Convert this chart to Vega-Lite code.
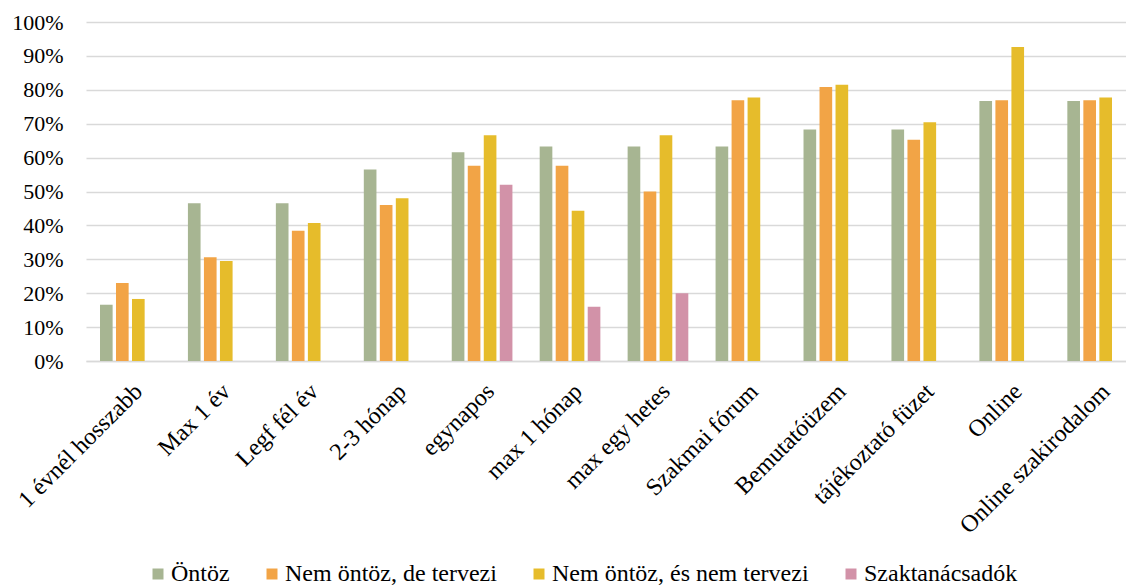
{
  "$schema": "https://vega.github.io/schema/vega-lite/v6.json",
  "width": 1040,
  "height": 339,
  "autosize": {"type": "none"},
  "padding": {"left": 86, "top": 22, "right": 0, "bottom": 225},
  "background": "white",
  "config": {
    "font": "Liberation Serif",
    "view": {"stroke": null},
    "axis": {"labelFont": "Liberation Serif"},
    "legend": {"labelFont": "Liberation Serif"}
  },
  "data": {
    "values": [
      {"cat": "1 évnél hosszabb", "series": "Öntöz", "v": 0.166},
      {"cat": "1 évnél hosszabb", "series": "Nem öntöz, de tervezi", "v": 0.230},
      {"cat": "1 évnél hosszabb", "series": "Nem öntöz, és nem tervezi", "v": 0.183},
      {"cat": "Max 1 év", "series": "Öntöz", "v": 0.465},
      {"cat": "Max 1 év", "series": "Nem öntöz, de tervezi", "v": 0.306},
      {"cat": "Max 1 év", "series": "Nem öntöz, és nem tervezi", "v": 0.295},
      {"cat": "Legf fél év", "series": "Öntöz", "v": 0.465},
      {"cat": "Legf fél év", "series": "Nem öntöz, de tervezi", "v": 0.384},
      {"cat": "Legf fél év", "series": "Nem öntöz, és nem tervezi", "v": 0.407},
      {"cat": "2-3 hónap", "series": "Öntöz", "v": 0.565},
      {"cat": "2-3 hónap", "series": "Nem öntöz, de tervezi", "v": 0.460},
      {"cat": "2-3 hónap", "series": "Nem öntöz, és nem tervezi", "v": 0.480},
      {"cat": "egynapos", "series": "Öntöz", "v": 0.616},
      {"cat": "egynapos", "series": "Nem öntöz, de tervezi", "v": 0.576},
      {"cat": "egynapos", "series": "Nem öntöz, és nem tervezi", "v": 0.666},
      {"cat": "egynapos", "series": "Szaktanácsadók", "v": 0.520},
      {"cat": "max 1 hónap", "series": "Öntöz", "v": 0.633},
      {"cat": "max 1 hónap", "series": "Nem öntöz, de tervezi", "v": 0.576},
      {"cat": "max 1 hónap", "series": "Nem öntöz, és nem tervezi", "v": 0.443},
      {"cat": "max 1 hónap", "series": "Szaktanácsadók", "v": 0.160},
      {"cat": "max egy hetes", "series": "Öntöz", "v": 0.633},
      {"cat": "max egy hetes", "series": "Nem öntöz, de tervezi", "v": 0.500},
      {"cat": "max egy hetes", "series": "Nem öntöz, és nem tervezi", "v": 0.666},
      {"cat": "max egy hetes", "series": "Szaktanácsadók", "v": 0.200},
      {"cat": "Szakmai fórum", "series": "Öntöz", "v": 0.633},
      {"cat": "Szakmai fórum", "series": "Nem öntöz, de tervezi", "v": 0.769},
      {"cat": "Szakmai fórum", "series": "Nem öntöz, és nem tervezi", "v": 0.777},
      {"cat": "Bemutatóüzem", "series": "Öntöz", "v": 0.683},
      {"cat": "Bemutatóüzem", "series": "Nem öntöz, de tervezi", "v": 0.808},
      {"cat": "Bemutatóüzem", "series": "Nem öntöz, és nem tervezi", "v": 0.815},
      {"cat": "tájékoztató füzet", "series": "Öntöz", "v": 0.683},
      {"cat": "tájékoztató füzet", "series": "Nem öntöz, de tervezi", "v": 0.653},
      {"cat": "tájékoztató füzet", "series": "Nem öntöz, és nem tervezi", "v": 0.704},
      {"cat": "Online", "series": "Öntöz", "v": 0.767},
      {"cat": "Online", "series": "Nem öntöz, de tervezi", "v": 0.769},
      {"cat": "Online", "series": "Nem öntöz, és nem tervezi", "v": 0.926},
      {"cat": "Online szakirodalom", "series": "Öntöz", "v": 0.767},
      {"cat": "Online szakirodalom", "series": "Nem öntöz, de tervezi", "v": 0.769},
      {"cat": "Online szakirodalom", "series": "Nem öntöz, és nem tervezi", "v": 0.777}
    ]
  },
  "mark": {"type": "bar"},
  "encoding": {
    "x": {
      "field": "cat",
      "type": "nominal",
      "sort": null,
      "scale": {"range": [0, 1056], "paddingInner": 0.31, "paddingOuter": 0.159},
      "axis": {
        "title": null,
        "labelAngle": -45,
        "labelFont": "Liberation Serif",
        "labelFontSize": 24,
        "labelColor": "#000000",
        "labelPadding": 18,
        "labelDx": -7,
        "labelDy": -7,
        "labelOverlap": false,
        "labelLimit": 400,
        "ticks": false,
        "domainColor": "#d9d9d9",
        "domainWidth": 1.5
      }
    },
    "xOffset": {
      "field": "series",
      "type": "nominal",
      "scale": {
        "domain": ["Öntöz", "Nem öntöz, de tervezi", "Nem öntöz, és nem tervezi", "Szaktanácsadók"],
        "paddingInner": 0.21,
        "paddingOuter": 0
      }
    },
    "y": {
      "field": "v",
      "type": "quantitative",
      "scale": {"domain": [0, 1], "nice": false},
      "axis": {
        "title": null,
        "format": ".0%",
        "values": [0, 0.1, 0.2, 0.3, 0.4, 0.5, 0.6, 0.7, 0.8, 0.9, 1],
        "labelFont": "Liberation Serif",
        "labelFontSize": 22,
        "labelColor": "#000000",
        "labelPadding": 23,
        "ticks": false,
        "domain": false,
        "gridColor": "#d9d9d9",
        "gridWidth": 1.5
      }
    },
    "color": {
      "field": "series",
      "type": "nominal",
      "scale": {
        "domain": ["Öntöz", "Nem öntöz, de tervezi", "Nem öntöz, és nem tervezi", "Szaktanácsadók"],
        "range": ["#a7b592", "#f2a446", "#e6bc2b", "#d292a8"]
      },
      "legend": {
        "title": null,
        "orient": "none",
        "legendX": 60,
        "legendY": 540,
        "direction": "horizontal",
        "columns": 4,
        "labelFont": "Liberation Serif",
        "labelFontSize": 24,
        "labelColor": "#000000",
        "labelLimit": 0,
        "labelOffset": 1,
        "symbolType": "square",
        "symbolSize": 121,
        "symbolStrokeWidth": 0,
        "columnPadding": 30
      }
    }
  }
}
